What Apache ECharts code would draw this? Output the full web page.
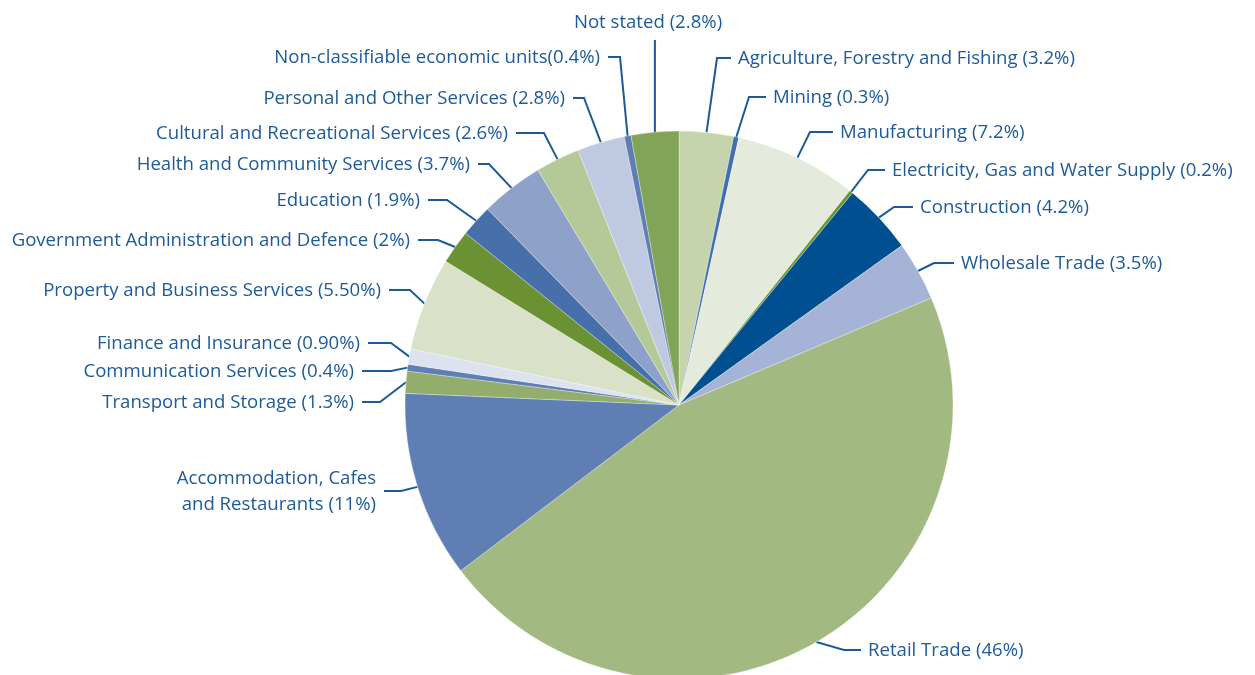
<!DOCTYPE html>
<html><head><meta charset="utf-8">
<script src="https://cdn.jsdelivr.net/npm/echarts@6/dist/echarts.min.js"></script>
<style>html,body{margin:0;padding:0;background:#fff}#c{width:1255px;height:675px}</style>
</head><body><div id="c"></div>
<script>
var categories = [
  "Agriculture, Forestry and Fishing (3.2%)",
  "Mining (0.3%)",
  "Manufacturing (7.2%)",
  "Electricity, Gas and Water Supply (0.2%)",
  "Construction (4.2%)",
  "Wholesale Trade (3.5%)",
  "Retail Trade (46%)",
  "Accommodation, Cafes\nand Restaurants (11%)",
  "Transport and Storage (1.3%)",
  "Communication Services (0.4%)",
  "Finance and Insurance (0.90%)",
  "Property and Business Services (5.50%)",
  "Government Administration and Defence (2%)",
  "Education (1.9%)",
  "Health and Community Services (3.7%)",
  "Cultural and Recreational Services (2.6%)",
  "Personal and Other Services (2.8%)",
  "Non-classifiable economic units(0.4%)",
  "Not stated (2.8%)"
];
var values = [3.2, 0.3, 7.2, 0.2, 4.2, 3.5, 46, 11, 1.3, 0.4, 0.9, 5.5, 2, 1.9, 3.7, 2.6, 2.8, 0.4, 2.8];
var colors = ["#c6d4ae","#3f6fb0","#e5ebdc","#6a9434","#004f91","#a5b4d6","#a3b982","#5f7fb4","#93ad6d","#5f7fb4","#dde2f0","#d9e1c8","#6a9232","#4770aa","#8da1c9","#b5c898","#bfc9e1","#5f7fb4","#82a458"];
// label placement: side, anchor x, centre y, horizontal leader length
var labelPlace = [
  ['r',738,58,14],['r',773,97,17],['r',840,132,23],['r',892,170,17],['r',920,207,19],['r',961,263,20],['r',868,650,17],
  ['l',376,491,17],['l',354,402,18],['l',354,371,29],['l',360,343,23],['l',381,290,21],['l',410,240,20],['l',420,200,19],
  ['l',470,164,11],['l',508,133,28],['l',565,98,11],['l',600,57,12],['t',648,22,0]
];
var textColor = "#1c5a9a";
var chart = echarts.init(document.getElementById('c'));
var data = categories.map(function(n,i){return {name:n, value:values[i], itemStyle:{color:colors[i]}};});
chart.setOption({
  animation:false,
  series:[{
    type:'pie',
    center:[679,405],
    radius:[0,274],
    startAngle:90,
    clockwise:true,
    silent:true,
    avoidLabelOverlap:false,
    data:data,
    itemStyle:{borderColor:'rgba(255,255,255,0.6)',borderWidth:0.5},
    label:{show:true,formatter:'{b}',color:textColor,fontFamily:'Open Sans',fontSize:18.6,lineHeight:26},
    labelLine:{show:true,length:10,length2:10,lineStyle:{color:textColor,width:2}},
    labelLayout:function(p){
      var pl = labelPlace[p.dataIndex];
      var e = (p.labelLinePoints && p.labelLinePoints[0]) || [0,0];
      var x = pl[1], y = pl[2], h = pl[3], end, elbow, align;
      if (pl[0]==='r'){ end=[x-7,y]; elbow=[x-7-h,y]; align='left'; }
      else if (pl[0]==='l'){ end=[x+8,y]; elbow=[x+8+h,y]; align='right'; }
      else { end=[e[0],40]; elbow=[e[0],40]; align='center'; }
      return {x:x,y:y+1,align:align,verticalAlign:'middle',labelLinePoints:[e,elbow,end]};
    }
  }]
});
</script></body></html>
